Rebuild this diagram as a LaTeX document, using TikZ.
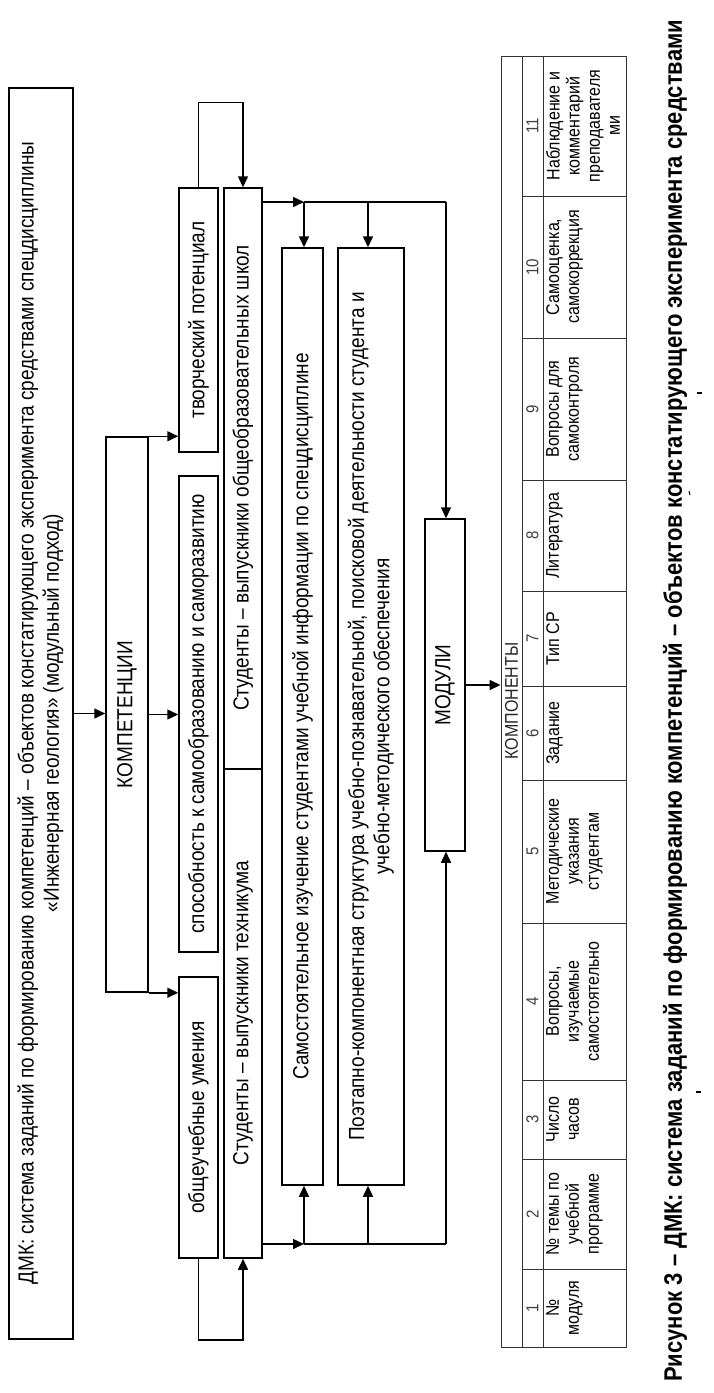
\documentclass[tikz,border=0pt]{standalone}
\usepackage{fontspec}
\setmainfont{Liberation Sans}
\usetikzlibrary{arrows.meta}
\newcommand\fmain{\fontsize{19}{22}\selectfont}
\newcommand\ftab{\fontsize{16}{17.4}\selectfont}
\newcommand\fnum{\fontsize{15}{17}\selectfont}
\begin{document}
\begin{tikzpicture}[x=1pt,y=-1pt,
  bx/.style={draw, line width=1.5pt, inner sep=0pt},
  lbl/.style={rotate=90, yscale=1.15, font=\fmain, align=center, inner sep=0pt},
  tlbl/.style={rotate=90, yscale=1.15, font=\ftab, align=center, inner sep=0pt, anchor=north},
  nlbl/.style={rotate=90, yscale=1.15, font=\fnum, text=black!75, inner sep=0pt},
  conn/.style={line width=1.5pt},
  arr/.style={line width=1.5pt, -{Triangle[length=11pt,width=10pt]}},
  tline/.style={line width=0.9pt, draw=black!80}]
\useasboundingbox (0,0) rectangle (713,1393);
\fill[white] (0,0) rectangle (713,1393);

% boxes
\node[bx, minimum width=64pt, minimum height=1251pt] (dmk) at (41,713.5) {};
\node[bx, minimum width=42pt, minimum height=555pt] (komp) at (127,714.5) {};
\node[bx, minimum width=39pt, minimum height=264pt] (tvor) at (198.5,320) {};
\node[bx, minimum width=39pt, minimum height=476pt] (spos) at (198.5,714) {};
\node[bx, minimum width=39pt, minimum height=281pt] (obsh) at (198.5,1117.5) {};
\node[bx, minimum width=38pt, minimum height=1070pt] (stud) at (243,723) {};
\node[bx, minimum width=41pt, minimum height=937pt] (samo) at (302.5,716.5) {};
\node[bx, minimum width=66pt, minimum height=937pt] (poet) at (371,716.5) {};
\node[bx, minimum width=40pt, minimum height=332pt] (modu) at (445,685) {};
\node[draw=black!80, line width=0.9pt, inner sep=0pt, minimum width=125pt, minimum height=1291pt] (tab) at (563.5,701.5) {};

% labels
\node[lbl] at (40.5,713) {ДМК: система заданий по формированию компетенций – объектов констатирующего эксперимента средствами спецдисциплины\\«Инженерная геология» (модульный подход)};
\node[lbl] at (komp) {КОМПЕТЕНЦИИ};
\node[lbl] at (tvor) {творческий потенциал};
\node[lbl] at (spos) {способность к самообразованию и саморазвитию};
\node[lbl] at (obsh) {общеучебные умения};
\coordinate (dv1) at (224,769);
\coordinate (dv2) at (262,769);
\draw[conn] (dv1) -- (dv2);
\node[lbl] at (243,478) {Студенты – выпускники общеобразовательных школ};
\node[lbl] at (243,1013) {Студенты – выпускники техникума};
\node[lbl] at (samo) {Самостоятельное изучение студентами учебной информации по спецдисциплине};
\node[lbl] at (poet) {Поэтапно-компонентная структура учебно-познавательной, поисковой деятельности студента и\\учебно-методического обеспечения};
\node[lbl] at (modu) {МОДУЛИ};

% connectors left part
\draw[arr] (dmk.east) -- (dmk.east -| komp.west);
\draw[arr] (komp.east) -- (komp.east -| spos.west);
\draw[arr] (komp.north east) -- (komp.north east -| tvor.west);
\draw[arr] (komp.south east) -- (komp.south east -| obsh.west);
\draw[arr] (tvor.north) -- ++(0,-85) -| (stud.north);
\draw[arr] (obsh.south) -- ++(0,81) -| (stud.south);

% right part
\coordinate (t1) at (304,202);
\coordinate (t2) at (368,202);
\coordinate (t3) at (446,202);
\coordinate (b1) at (304,1244);
\coordinate (b2) at (368,1244);
\coordinate (b3) at (446,1244);
\draw[arr] (stud.east |- t1) -- (t1);
\draw[conn] (t1) -- (t3);
\draw[arr] (t1) -- (t1 |- samo.north);
\draw[arr] (t2) -- (t2 |- poet.north);
\draw[arr] (t3) -- (t3 |- modu.north);
\draw[arr] (stud.east |- b1) -- (b1);
\draw[conn] (b1) -- (b3);
\draw[arr] (b1) -- (b1 |- samo.south);
\draw[arr] (b2) -- (b2 |- poet.south);
\draw[arr] (b3) -- (b3 |- modu.south);
\draw[arr] (modu.east) -- (modu.east -| tab.west);

% table
\draw[tline] (522,56) -- (522,1347);
\draw[tline] (543,56) -- (543,1347);
\foreach \yy in {196,338,480,591,686,780,923,1080,1159,1269}
  \draw[tline] (522,\yy) -- (626,\yy);
\node[rotate=90, yscale=1.15, font=\ftab, text=black!85, inner sep=0pt] at (511.5,701) {КОМПОНЕНТЫ};
\foreach \n/\yy in {1/1308,2/1214,3/1119.5,4/1001.5,5/851.5,6/733,7/638.5,8/535.5,9/409,10/267,11/126}
  \node[nlbl] at (532.5,\yy) {\n};
\node[tlbl] at (546,1308) {№\\модуля};
\node[tlbl] at (546,1214) {№ темы по\\учебной\\программе};
\node[tlbl] at (546,1119.5) {Число\\часов};
\node[tlbl] at (546,1001.5) {Вопросы,\\изучаемые\\самостоятельно};
\node[tlbl] at (546,851.5) {Методические\\указания\\студентам};
\node[tlbl] at (546,733) {Задание};
\node[tlbl] at (546,638.5) {Тип СР};
\node[tlbl] at (546,535.5) {Литература};
\node[tlbl] at (546,409) {Вопросы для\\самоконтроля};
\node[tlbl] at (546,267) {Самооценка,\\самокоррекция};
\node[tlbl] at (546,126) {Наблюдение и\\комментарий\\преподавателя\\ми};

% caption
\node[rotate=90, yscale=1.15, anchor=west, inner sep=0pt, font=\bfseries\fontsize{22}{26}\selectfont] (cap) at (675,1382) {Рисунок 3 – ДМК: система заданий по формированию компетенций – объектов констатирующего эксперимента средствами};
\draw[line width=1.2pt] (696,1092) -- (701,1092);
\draw[line width=1.2pt] (697,393) -- (702,393);
\draw[line width=1pt] (689,491) -- (690,495);
\end{tikzpicture}
\end{document}
